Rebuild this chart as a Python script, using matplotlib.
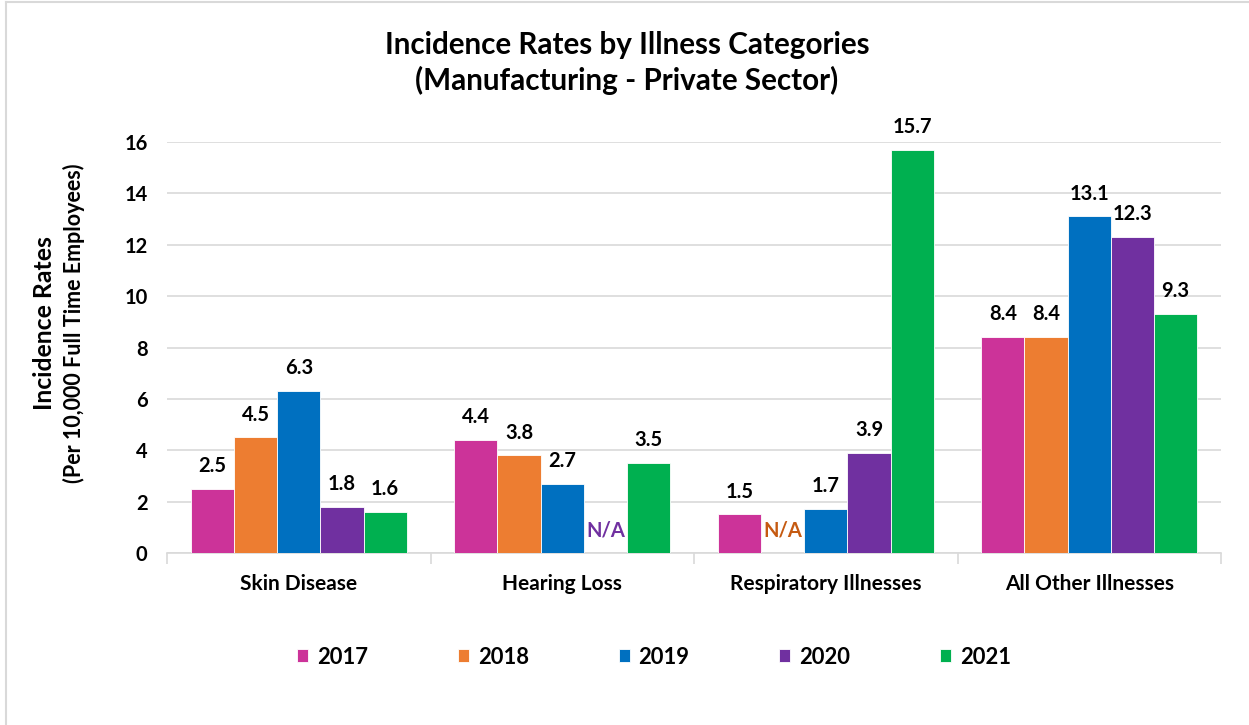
import numpy as np
import matplotlib.pyplot as plt
from matplotlib.lines import Line2D

plt.rcParams['font.family'] = ['Lato', 'DejaVu Sans']
plt.rcParams['font.weight'] = 'bold'

categories = ['Skin Disease', 'Hearing Loss', 'Respiratory Illnesses', 'All Other Illnesses']
years = ['2017', '2018', '2019', '2020', '2021']
# None = N/A in the source
rates = {
    '2017': [2.5, 4.4, 1.5, 8.4],
    '2018': [4.5, 3.8, None, 8.4],
    '2019': [6.3, 2.7, 1.7, 13.1],
    '2020': [1.8, None, 3.9, 12.3],
    '2021': [1.6, 3.5, 15.7, 9.3],
}
colors = ['#CC3399', '#ED7D31', '#0070C0', '#7030A0', '#00B050']
na_colors = {'2018': '#C55A11', '2020': '#7030A0'}

fig = plt.figure(figsize=(12.49, 7.25), dpi=100)
ax = fig.add_axes([167 / 1249, 1 - 553 / 725, (1221 - 167) / 1249, (553 - 142) / 725])

x = np.arange(len(categories))
width = 0.82 / len(years)
handles = []
for i, (yr, col) in enumerate(zip(years, colors)):
    vals = [v if v is not None else 0 for v in rates[yr]]
    pos = x + (i - 2) * width
    b = ax.bar(pos, vals, width, color=col, edgecolor='white', linewidth=0.6, zorder=3)
    handles.append(b)
    for p, v in zip(pos, rates[yr]):
        if v is None:
            ax.text(p, 0.5, 'N/A', ha='center', va='bottom', fontsize=14.5,
                    fontweight='bold', color=na_colors[yr], clip_on=False)
        else:
            ax.text(p, v + 0.5, f'{v:.1f}', ha='center', va='bottom', fontsize=14.5,
                    fontweight='bold', color='black', clip_on=False)

ax.set_xlim(-0.5, len(categories) - 0.5)
ax.set_ylim(0, 16)
ax.set_yticks(np.arange(0, 17, 2))
ax.yaxis.grid(True, color='#D9D9D9', linewidth=1.2, zorder=0)
ax.tick_params(axis='y', length=0, pad=14, labelsize=14.5)
ax.set_xticks(x)
ax.set_xticklabels(categories, fontsize=15, fontweight='bold')
ax.set_xticks(np.arange(-0.5, len(categories), 1), minor=True)
ax.tick_params(axis='x', which='major', length=0, pad=15)
ax.tick_params(axis='x', which='minor', length=8, color='#D9D9D9', width=1.2)
for s in ['top', 'right', 'left']:
    ax.spines[s].set_visible(False)
ax.spines['bottom'].set_color('#D9D9D9')
ax.spines['bottom'].set_linewidth(1.2)

fig.text(45 / 1249, 1 - 323 / 725, 'Incidence Rates', rotation=90, ha='center', va='center',
         fontsize=17.8, fontweight='bold')
fig.text(74 / 1249, 1 - 323 / 725, '(Per 10,000 Full Time Employees)', rotation=90,
         ha='center', va='center', fontsize=15.5, fontweight='bold')

fig.text(627 / 1249, 1 - 45 / 725, 'Incidence Rates by Illness Categories', ha='center',
         va='center', fontsize=21.3, fontweight='bold')
fig.text(627 / 1249, 1 - 80 / 725, '(Manufacturing - Private Sector)', ha='center',
         va='center', fontsize=21.3, fontweight='bold')

leg = fig.legend(handles, years, loc='center', bbox_to_anchor=(654 / 1249, 1 - 657 / 725),
                 ncol=5, frameon=False, fontsize=15.8, handlelength=0.5, handleheight=0.5,
                 handletextpad=0.4, columnspacing=4.1)

# chart border (left and top visible in the source)
fig.add_artist(Line2D([6 / 1249, 6 / 1249], [0, 1 - 2 / 725], color='#D9D9D9', linewidth=1.5))
fig.add_artist(Line2D([6 / 1249, 1248 / 1249], [1 - 2 / 725, 1 - 2 / 725], color='#D9D9D9', linewidth=1.5))

fig.savefig('out.png', dpi=100)
